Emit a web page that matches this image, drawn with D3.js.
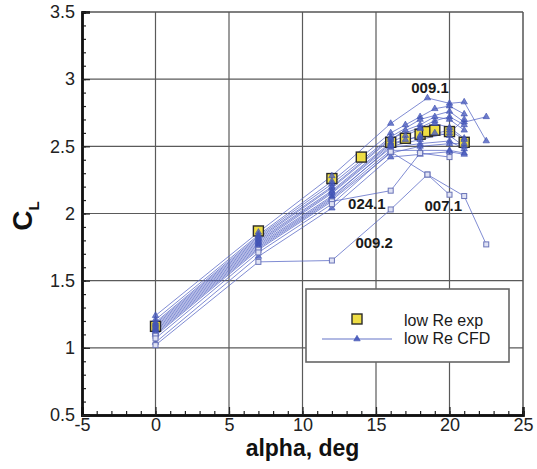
<!DOCTYPE html>
<html>
<head>
<meta charset="utf-8">
<script src="https://cdn.jsdelivr.net/npm/d3@7"></script>
<style>
  html, body { margin: 0; padding: 0; background: #fff; }
  svg { display: block; font-family: "Liberation Sans", Arial, Helvetica, sans-serif; }
</style>
</head>
<body>
<svg id="chart" width="537" height="469"></svg>
<script>
// Lift coefficient vs. angle of attack: low-Re experiment and CFD runs.
const xTicks = [-5, 0, 5, 10, 15, 20, 25];
const yTicks = [0.5, 1, 1.5, 2, 2.5, 3, 3.5];

// Experimental points [alpha, CL]
const expAlpha = [0, 7, 12, 14, 16, 17, 18, 18.5, 19, 20, 21];
const expCL    = [1.16, 1.87, 2.26, 2.42, 2.53, 2.56, 2.59, 2.61, 2.62, 2.61, 2.53];

// CFD runs, each a list of [alpha, CL]
const run0091 = [[0,1.24],[7,1.86],[12,2.28],[16,2.67],[18.5,2.86],[20,2.82],[21,2.83],[22.5,2.54]];
const runA = [[0,1.21],[7,1.84],[12,2.24],[16,2.60],[17,2.66],[18,2.72],[19,2.78],[20,2.80],[21,2.74]];
const runB = [[0,1.19],[7,1.83],[12,2.22],[16,2.57],[18,2.70],[20,2.76],[21,2.68],[22.5,2.72]];
const runI = [[0,1.18],[7,1.82],[12,2.20],[16,2.56],[18,2.64],[19,2.69],[20,2.72],[21,2.66]];
const runC = [[0,1.17],[7,1.81],[12,2.19],[16,2.55],[17,2.62],[18,2.66],[19,2.72],[20,2.70],[21,2.62]];
const runD = [[0,1.16],[7,1.80],[12,2.17],[16,2.53],[17,2.58],[18,2.63],[19,2.67],[20,2.64],[21,2.56]];
const runJ = [[0,1.15],[7,1.79],[12,2.16],[16,2.52],[17,2.55],[18,2.57],[20,2.62],[21,2.55]];
const runE = [[0,1.14],[7,1.78],[12,2.15],[16,2.51],[18,2.58],[19,2.60],[20,2.58],[21,2.50]];
const runF = [[0,1.13],[7,1.77],[12,2.13],[16,2.49],[18,2.52],[20,2.54],[21,2.48]];
const runK = [[0,1.12],[7,1.76],[12,2.12],[16,2.50],[18,2.55],[20,2.60],[21,2.70]];
const runG = [[0,1.11],[7,1.75],[12,2.11],[16,2.47],[18,2.47],[20,2.47],[21,2.45]];
const runL = [[0,1.10],[7,1.74],[12,2.10],[16,2.45],[18,2.50],[20,2.52],[21,2.52]];
const run0241 = [[0,1.09],[7,1.73],[12,2.09],[16,2.17],[18,2.45],[20,2.42]];
const run0071 = [[0,1.07],[7,1.71],[12,2.07],[16,2.46],[18.5,2.29],[21,2.13],[22.5,1.77]];
const run0092 = [[0,1.02],[7,1.64],[12,1.65],[16,2.03],[18.5,2.29],[20,2.14]];
const runH = [[0,1.04],[7,1.68],[12,2.04],[16,2.42],[18,2.44],[20,2.46],[21,2.44]];

const cfdTriangleRuns = [run0091, runA, runB, runI, runC, runD, runJ, runE, runF, runK, runG, runL, runH];
const cfdSquareRuns = [run0241, run0071, run0092];

// Run labels [text, alpha, CL]
const runLabels = [["009.1", 17.4, 2.90], ["024.1", 13.1, 2.03], ["007.1", 18.3, 2.02], ["009.2", 13.6, 1.74]];

const legendLabels = ["low Re exp", "low Re CFD"];

const svg = d3.select("#chart");
const plotLeft = 82, plotRight = 523, plotTop = 12, plotBottom = 415;

const x = d3.scaleLinear().domain([-5, 25]).range([plotLeft, plotRight]);
const y = d3.scaleLinear().domain([0.5, 3.5]).range([plotBottom, plotTop]);

// grid
const grid = svg.append("g");
grid.selectAll(".gx").data(xTicks.slice(1, -1)).join("line")
  .attr("x1", d => x(d)).attr("x2", d => x(d))
  .attr("y1", plotTop).attr("y2", plotBottom)
  .attr("stroke", "#5a5a5a").attr("stroke-width", 1.2);
grid.selectAll(".gy").data(yTicks.slice(1, -1)).join("line")
  .attr("y1", d => y(d)).attr("y2", d => y(d))
  .attr("x1", plotLeft).attr("x2", plotRight)
  .attr("stroke", "#5a5a5a").attr("stroke-width", 1.2);

// frame top/right
svg.append("line").attr("x1", plotLeft).attr("x2", plotRight).attr("y1", plotTop).attr("y2", plotTop)
  .attr("stroke", "#555").attr("stroke-width", 1.5);
svg.append("line").attr("x1", plotRight).attr("x2", plotRight).attr("y1", plotTop).attr("y2", plotBottom)
  .attr("stroke", "#555").attr("stroke-width", 1.5);

// CFD lines
const line = d3.line().x(d => x(d[0])).y(d => y(d[1]));
const allRuns = cfdTriangleRuns.concat(cfdSquareRuns);
svg.append("g").selectAll("path").data(allRuns).join("path")
  .attr("d", line)
  .attr("fill", "none")
  .attr("stroke", "#5566c4")
  .attr("stroke-opacity", 0.75)
  .attr("stroke-width", 1);

// experimental squares
const exp = expAlpha.map((a, i) => [a, expCL[i]]);
svg.append("g").selectAll("rect").data(exp).join("rect")
  .attr("x", d => x(d[0]) - 5).attr("y", d => y(d[1]) - 5)
  .attr("width", 10).attr("height", 10)
  .attr("fill", "#eedd44").attr("stroke", "#2a2a2a").attr("stroke-width", 1.4);

// CFD markers
const tri = d3.symbol().type(d3.symbolTriangle).size(18);
const markers = svg.append("g");
cfdTriangleRuns.forEach(run => {
  markers.append("g").selectAll("path").data(run).join("path")
    .attr("d", tri)
    .attr("transform", d => `translate(${x(d[0])},${y(d[1])})`)
    .attr("fill", "#4f60c0").attr("fill-opacity", 0.8)
    .attr("stroke", "#3d4fb0").attr("stroke-width", 0.6);
});
cfdSquareRuns.forEach(run => {
  markers.append("g").selectAll("rect").data(run).join("rect")
    .attr("x", d => x(d[0]) - 2.5).attr("y", d => y(d[1]) - 2.5)
    .attr("width", 5).attr("height", 5)
    .attr("fill", "#dfe2f4")
    .attr("stroke", "#6a74b8").attr("stroke-width", 1);
});

// axes
const xAxis = svg.append("g").attr("transform", `translate(0,${plotBottom})`);
xAxis.call(d3.axisBottom(x).tickValues(d3.range(-5, 26, 1)).tickSize(-4).tickFormat(""));
xAxis.append("g").call(d3.axisBottom(x).tickValues(xTicks).tickSize(-8).tickPadding(3).tickFormat(d => String(d)));
const yAxis = svg.append("g").attr("transform", `translate(${plotLeft},0)`);
yAxis.call(d3.axisLeft(y).tickValues(d3.range(5, 36, 1).map(v => v / 10)).tickSize(-4).tickFormat(""));
yAxis.append("g").call(d3.axisLeft(y).tickValues(yTicks).tickSize(-8).tickPadding(7).tickFormat(d => String(d)));
svg.selectAll(".domain").attr("stroke", "#111").attr("stroke-width", 2.4);
svg.selectAll(".tick line").attr("stroke", "#222").attr("stroke-width", 1.2);
svg.selectAll(".tick text").attr("font-size", 18).attr("fill", "#222")
  .attr("font-family", "'Liberation Sans', Arial, sans-serif");

// axis titles
svg.append("text").attr("x", (plotLeft + plotRight) / 2).attr("y", 456)
  .attr("text-anchor", "middle").attr("font-size", 23).attr("font-weight", "bold")
  .attr("fill", "#111").text("alpha, deg");
const yt = svg.append("text").attr("transform", "translate(32,216) rotate(-90)")
  .attr("text-anchor", "middle").attr("font-weight", "bold").attr("fill", "#111");
yt.append("tspan").attr("font-size", 28).text("C");
yt.append("tspan").attr("font-size", 15).attr("dy", 7).text("L");

// run labels
svg.append("g").selectAll("text").data(runLabels).join("text")
  .attr("x", d => x(d[1])).attr("y", d => y(d[2]))
  .attr("font-size", 15).attr("font-weight", "bold").attr("fill", "#1a1a1a")
  .text(d => d[0]);

// legend
const lg = svg.append("g");
lg.append("rect").attr("x", 306).attr("y", 289).attr("width", 203).attr("height", 73)
  .attr("fill", "#fff").attr("stroke", "#666").attr("stroke-width", 1.6);
lg.append("rect").attr("x", 352).attr("y", 314).attr("width", 10).attr("height", 10)
  .attr("fill", "#eedd44").attr("stroke", "#2a2a2a").attr("stroke-width", 1.4);
lg.append("line").attr("x1", 322).attr("x2", 392).attr("y1", 339).attr("y2", 339)
  .attr("stroke", "#6475c8").attr("stroke-width", 1.2);
lg.append("path").attr("d", tri).attr("transform", "translate(357,339)")
  .attr("fill", "#4f60c0").attr("stroke", "#3d4fb0").attr("stroke-width", 0.6);
lg.selectAll(".lt").data(legendLabels).join("text")
  .attr("x", 404).attr("y", (d, i) => 326 + i * 17.5)
  .attr("font-size", 16).attr("fill", "#1a1a1a").text(d => d);
</script>
</body>
</html>
